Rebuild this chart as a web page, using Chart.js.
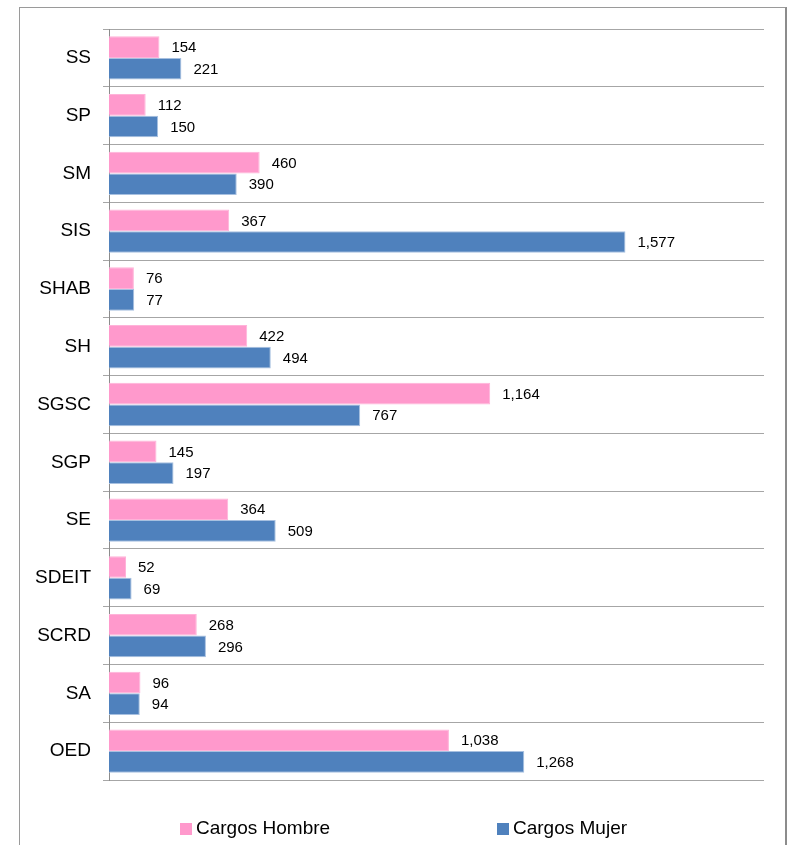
<!DOCTYPE html>
<html>
<head>
<meta charset="utf-8">
<script src="https://cdn.jsdelivr.net/npm/chart.js@4/dist/chart.umd.min.js"></script>
<style>
  html, body { margin: 0; padding: 0; background: #fff; overflow: hidden; }
  #wrap { position: relative; width: 791px; height: 845px; }
  #frame { position: absolute; left: 19px; top: 7px; width: 765px; height: 900px; border: 1px solid #9a9a9a; border-right: 2px solid #8c8c8c; }
  canvas { position: absolute; left: 0; top: 0; }
  .leg { position: absolute; top: 817px; font: 19px "Liberation Sans", Arial, sans-serif; color: #000; line-height: 22px; white-space: nowrap; }
  .leg span { display: inline-block; width: 12px; height: 12px; margin-right: 4px; vertical-align: -1px; }
</style>
</head>
<body>
<div id="wrap">
  <div id="frame"></div>
  <canvas id="chart" width="791" height="845"></canvas>
  <div class="leg" id="leg0" style="left:180px"></div>
  <div class="leg" id="leg1" style="left:497px"></div>
</div>
<script>
// datos
const categorias = ['SS', 'SP', 'SM', 'SIS', 'SHAB', 'SH', 'SGSC', 'SGP', 'SE', 'SDEIT', 'SCRD', 'SA', 'OED'];
const cargosHombre = [154, 112, 460, 367, 76, 422, 1164, 145, 364, 52, 268, 96, 1038];
const cargosMujer = [221, 150, 390, 1577, 77, 494, 767, 197, 509, 69, 296, 94, 1268];
const nombresSeries = ['Cargos Hombre', 'Cargos Mujer'];
const colores = ['#ff99cc', '#4f81bd'];
const bordes = ['#ffb3d9', '#a7c0e0'];

// etiquetas de valor al final de cada barra
const etiquetas = {
    id: 'etiquetas',
    afterDatasetsDraw(chart) {
        const ctx = chart.ctx;
        ctx.save();
        ctx.font = '15px "Liberation Sans", Arial, sans-serif';
        ctx.fillStyle = '#000';
        ctx.textAlign = 'left';
        ctx.textBaseline = 'middle';
        chart.data.datasets.forEach((ds, i) => {
            chart.getDatasetMeta(i).data.forEach((bar, j) => {
                ctx.fillText(ds.data[j].toLocaleString('en-US'), bar.x + 12, bar.y + 1);
            });
        });
        ctx.restore();
    }
};

const ctx = document.getElementById('chart').getContext('2d');
new Chart(ctx, {
    type: 'bar',
    data: {
        labels: categorias,
        datasets: [{
            label: nombresSeries[0],
            data: cargosHombre,
            backgroundColor: colores[0],
            borderColor: bordes[0],
            borderWidth: 1
        }, {
            label: nombresSeries[1],
            data: cargosMujer,
            backgroundColor: colores[1],
            borderColor: bordes[1],
            borderWidth: 1
        }]
    },
    options: {
        indexAxis: 'y',
        responsive: false,
        animation: false,
        layout: { padding: { top: 29, right: 27, bottom: 65, left: 0 } },
        datasets: { bar: { categoryPercentage: 0.75, barPercentage: 1 } },
        scales: {
            x: { display: false, min: 0, max: 2000 },
            y: {
                afterFit: (scale) => { scale.width = 109; },
                grid: { color: '#a6a6a6', lineWidth: 1, tickLength: 6, offset: true },
                border: { color: '#8c8c8c', width: 1 },
                ticks: { color: '#000', padding: 12, font: { family: '"Liberation Sans", Arial, sans-serif', size: 19 } }
            }
        },
        plugins: { legend: { display: false }, tooltip: { enabled: false } }
    },
    plugins: [etiquetas]
});

// leyenda
nombresSeries.forEach((n, i) => {
    const el = document.getElementById('leg' + i);
    el.innerHTML = '<span style="background:' + colores[i] + '"></span>' + n;
});
</script>
</body>
</html>
